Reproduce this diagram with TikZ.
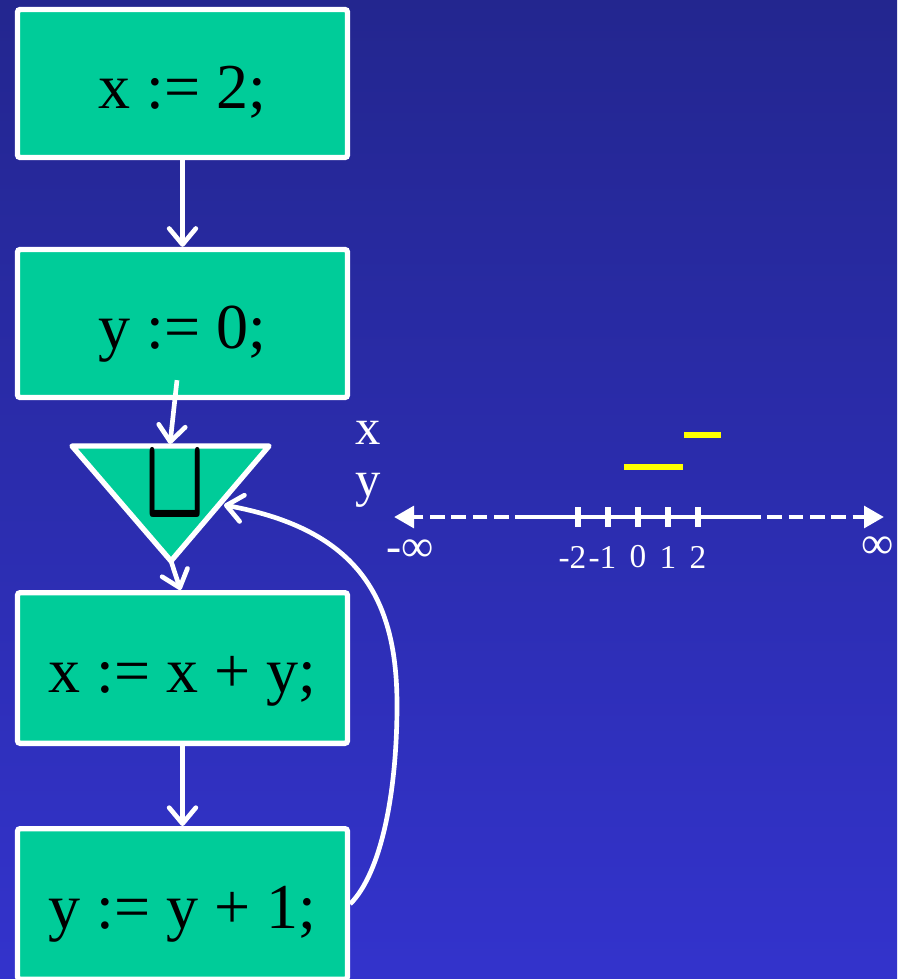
\documentclass[tikz,border=0pt]{standalone}
\usepackage{fontspec}
\setmainfont{Liberation Serif}
\usetikzlibrary{arrows.meta,calc,positioning}

\definecolor{slidetop}{RGB}{35,38,143}
\definecolor{slidebot}{RGB}{51,51,204}
\definecolor{stmtgreen}{RGB}{0,204,153}
\definecolor{barcol}{RGB}{255,255,0}

\begin{document}
\begin{tikzpicture}[
    x=0.75pt, y=-0.75pt,
    box/.style   = {draw=white, fill=stmtgreen, line width=4pt,
                    rounded corners=2pt, inner sep=0pt,
                    minimum width=247.5pt, minimum height=111pt,
                    text height=36.8pt, text depth=0pt,
                    font=\fontsize{48}{48}\selectfont},
    flow/.style  = {white, line width=3.5pt,
                    -{Straight Barb[length=12pt,width=20pt,round]}},
    numline/.style = {white, line width=3.6pt},
    dashpart/.style = {numline, dash pattern=on 11pt off 5pt,
                    -{Triangle[length=15pt,width=16pt]}},
    val/.style   = {text=white, inner sep=0pt, font=\fontsize{25}{25}\selectfont},
    lbl/.style   = {text=white, inner sep=0pt, anchor=base,
                    font=\fontsize{38}{38}\selectfont},
    bar/.style   = {barcol, line width=4.5pt}
  ]
  \useasboundingbox (0,0) rectangle (897,979);
  \fill[top color=slidetop, bottom color=slidebot] (0,0) rectangle (897,979);

  %–––– statement boxes ––––
  \node[box] (asgx) at (182.5,83.5) {x := 2;};
  \node[box] (asgy) at (182.5,323.5) {y := 0;};
  \node[box, minimum height=113pt] (addxy) at (182.5,668) {x := x + y;};
  \node[box, minimum height=113pt] (incy)  at (182.5,904) {y := y + 1;};

  %–––– join triangle ––––
  \draw[white, fill=stmtgreen, line width=4pt, line join=round]
      (72,446) -- (269,446) -- (171,561) -- cycle;
  \coordinate (jtop)   at (170,444);
  \coordinate (jtip)   at (171,561);
  \coordinate (jright) at (224,505);
  \node[inner sep=0pt] (join) at (175.5,485.5) {\scalebox{6}[8.7]{\boldmath$\sqcup$}};

  %–––– control flow ––––
  \draw[flow] (asgx.south) -- (asgy.north);
  \draw[flow] ($(asgy.south)+(-5.5,-20)$) -- (jtop);
  \draw[flow] (jtip) -- ($(addxy.north)+(-2,0)$);
  \draw[flow] (addxy.south) -- (incy.north);
  % back edge
  \draw[flow] (incy.east) .. controls (382,872) and (397,790) .. (397,705)
      .. controls (397,600) and (360,530) .. (jright);

  %–––– lattice line ––––
  \node[lbl] (xlab) at (368,444) {x};
  \node[lbl] (ylab) at (368,496) {y};

  \coordinate (ninf) at (394,517);
  \coordinate (nlo)  at (530,517);
  \coordinate (nhi)  at (746,517);
  \coordinate (pinf) at (884,517);
  \draw[numline]  (nlo) -- (nhi);
  \draw[dashpart] (nlo) -- (ninf);
  \draw[dashpart] (nhi) -- (pinf);

  \foreach \v/\t in {-2/\llap{-}2, -1/\llap{-}1, 0/0, 1/1, 2/2} {
    \draw[numline, line width=4pt] (638+30*\v,507) -- (638+30*\v,527);
    \node[val] (v\v) at (638+30*\v,557) {\t};
  }
  \node[val, font=\fontsize{34}{34}\selectfont] (minf) at (410,551) {-∞};
  \node[val, font=\fontsize{34}{34}\selectfont] (plinf) at (878,548) {∞};

  % current values
  \draw[bar] (684,435) -- (721,435);
  \draw[bar] (624,467) -- (683,467);

\end{tikzpicture}
\end{document}
